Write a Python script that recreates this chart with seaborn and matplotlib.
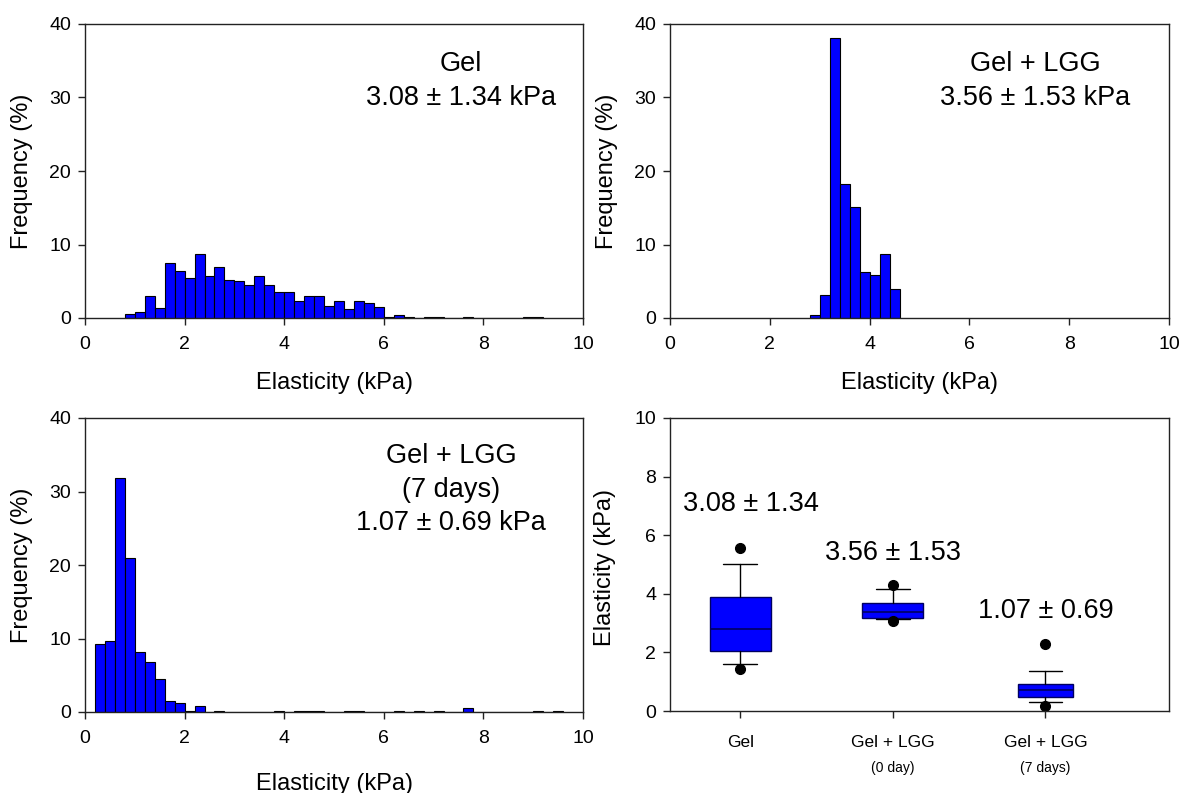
import numpy as np
import pandas as pd
import matplotlib
matplotlib.use("Agg")
import matplotlib.pyplot as plt
import matplotlib.transforms as mtransforms
import seaborn as sns

# ---------------- data ----------------
gel_bin_left = [0.8, 1.0, 1.2, 1.4, 1.6, 1.8, 2.0, 2.2, 2.4, 2.6, 2.8, 3.0, 3.2, 3.4,
                3.6, 3.8, 4.0, 4.2, 4.4, 4.6, 4.8, 5.0, 5.2, 5.4, 5.6, 5.8, 6.0, 6.2,
                6.4, 6.8, 7.0, 7.6, 8.8, 9.0]
gel_freq = [0.5, 0.77, 3.0, 1.3, 7.5, 6.4, 5.45, 8.7, 5.7, 6.9, 5.2, 5.0, 4.5, 5.7,
            4.5, 3.5, 3.5, 2.25, 3.0, 3.0, 1.7, 2.25, 1.26, 2.25, 2.0, 1.44, 0.2, 0.45,
            0.15, 0.15, 0.15, 0.15, 0.15, 0.15]

lgg0_bin_left = [2.8, 3.0, 3.2, 3.4, 3.6, 3.8, 4.0, 4.2, 4.4]
lgg0_freq = [0.36, 3.1, 38.1, 18.2, 15.1, 6.2, 5.8, 8.7, 3.9]

lgg7_bin_left = [0.2, 0.4, 0.6, 0.8, 1.0, 1.2, 1.4, 1.6, 1.8, 2.0, 2.2, 2.6, 3.8,
                 4.2, 4.4, 4.6, 5.2, 5.4, 6.2, 6.6, 7.0, 7.6, 9.0, 9.4]
lgg7_freq = [9.2, 9.7, 31.9, 20.9, 8.2, 6.8, 4.5, 1.44, 1.26, 0.2, 0.77, 0.2, 0.15,
             0.15, 0.15, 0.15, 0.15, 0.15, 0.15, 0.15, 0.15, 0.5, 0.15, 0.15]

hist_titles = ["Gel\n3.08 \u00b1 1.34 kPa",
               "Gel + LGG\n3.56 \u00b1 1.53 kPa",
               "Gel + LGG\n(7 days)\n1.07 \u00b1 0.69 kPa"]

box_categories = ["Gel", "Gel + LGG", "Gel + LGG"]
box_subtitles = ["", "(0 day)", "(7 days)"]
box_whislo = [1.59, 3.15, 0.32]
box_q1 = [2.05, 3.18, 0.49]
box_med = [2.80, 3.39, 0.70]
box_q3 = [3.89, 3.68, 0.92]
box_whishi = [5.02, 4.15, 1.37]
box_fliers = [[1.42, 5.57], [3.07, 4.30], [0.17, 2.28]]
box_labels = ["3.08 \u00b1 1.34", "3.56 \u00b1 1.53", "1.07 \u00b1 0.69"]
box_label_y = [7.05, 5.4, 3.4]

# ---------------- style ----------------
sns.set_style("ticks")
plt.rcParams["font.family"] = ["Liberation Sans", "DejaVu Sans"]
plt.rcParams["text.color"] = "black"
plt.rcParams["axes.labelcolor"] = "black"
plt.rcParams["axes.edgecolor"] = "#222222"
plt.rcParams["axes.linewidth"] = 1.0
plt.rcParams["xtick.color"] = "#222222"
plt.rcParams["ytick.color"] = "#222222"
plt.rcParams["xtick.labelcolor"] = "black"
plt.rcParams["ytick.labelcolor"] = "black"

W, H = 1181, 793
fig = plt.figure(figsize=(W / 100, H / 100), dpi=100)


def add_ax(left, top, right, bottom):
    return fig.add_axes([left / W, 1 - bottom / H, (right - left) / W, (bottom - top) / H])


ax1 = add_ax(85, 24, 583, 318)
ax2 = add_ax(670, 24, 1169, 318)
ax3 = add_ax(85, 418, 583, 712)
ax4 = add_ax(670, 418, 1169, 711)

BLUE = "#0000FF"
TICK_FS = 14
LAB_FS = 17
ANN_FS = 19.5


def style_axis(ax):
    for s in ax.spines.values():
        s.set_visible(True)
        s.set_linewidth(1.0)
        s.set_color("#222222")
    ax.tick_params(direction="out", length=5, width=1.0, labelsize=TICK_FS, pad=5)
    ax.tick_params(axis="x", top=False, pad=8)
    ax.tick_params(axis="y", right=False)


def hist_panel(ax, left, freq, title, title_xy, xlab_y):
    left = np.array(left)
    df = pd.DataFrame({"center": left + 0.1, "freq": freq})
    edges = np.round(np.arange(left.min(), left.max() + 0.2001, 0.2), 2).tolist()
    sns.histplot(data=df, x="center", weights="freq", bins=edges, ax=ax, color=BLUE,
                 edgecolor="black", linewidth=0.8, alpha=1.0)
    ax.set_xlim(0, 10)
    ax.set_ylim(0, 40)
    ax.set_xticks([0, 2, 4, 6, 8, 10])
    ax.set_yticks([0, 10, 20, 30, 40])
    ax.set_xlabel("Elasticity (kPa)", fontsize=LAB_FS)
    ax.set_ylabel("Frequency (%)", fontsize=LAB_FS)
    ax.xaxis.set_label_coords(0.5, xlab_y)
    ax.xaxis.label.set_va("center")
    ax.yaxis.set_label_coords(-0.1265, 0.5)
    ax.yaxis.label.set_va("center")
    style_axis(ax)
    ax.text(title_xy[0], title_xy[1], title, transform=ax.transAxes, ha="center",
            va="top", fontsize=ANN_FS, linespacing=1.38)


hist_panel(ax1, gel_bin_left, gel_freq, hist_titles[0], (0.755, 0.908), -0.221)
hist_panel(ax2, lgg0_bin_left, lgg0_freq, hist_titles[1], (0.732, 0.908), -0.221)
hist_panel(ax3, lgg7_bin_left, lgg7_freq, hist_titles[2], (0.735, 0.915), -0.245)

# ---------------- box plot ----------------
positions = list(range(len(box_categories)))
stats = []
for i in positions:
    stats.append(dict(whislo=box_whislo[i], q1=box_q1[i], med=box_med[i],
                      q3=box_q3[i], whishi=box_whishi[i], fliers=box_fliers[i]))
bp = ax4.bxp(stats, positions=positions, widths=[0.40, 0.40, 0.36], patch_artist=True,
             capwidths=0.22,
             boxprops=dict(facecolor=BLUE, edgecolor="#000060", linewidth=1.0),
             medianprops=dict(color="#000060", linewidth=1.2),
             whiskerprops=dict(color="black", linewidth=1.0),
             capprops=dict(color="black", linewidth=1.0),
             flierprops=dict(marker="o", markerfacecolor="black", markeredgecolor="black",
                             markersize=7))
ax4.set_xlim(-0.46, 2.81)
ax4.set_ylim(0, 10)
ax4.set_yticks([0, 2, 4, 6, 8, 10])
ax4.set_xticks(positions)
ax4.set_xticklabels(box_categories)
ax4.set_ylabel("Elasticity (kPa)", fontsize=LAB_FS)
ax4.yaxis.set_label_coords(-0.130, 0.49)
ax4.yaxis.label.set_va("center")
style_axis(ax4)
ax4.tick_params(axis="x", pad=12, labelsize=12.5)
blend = mtransforms.blended_transform_factory(ax4.transData, ax4.transAxes)
for i in positions:
    if box_subtitles[i]:
        ax4.text(positions[i], -0.193, box_subtitles[i], transform=blend, ha="center",
                 va="center", fontsize=10)
    ax4.text(positions[i] + (0.07 if i == 0 else 0), box_label_y[i], box_labels[i],
             ha="center", va="center", fontsize=ANN_FS)

fig.savefig("out.png", dpi=100)
